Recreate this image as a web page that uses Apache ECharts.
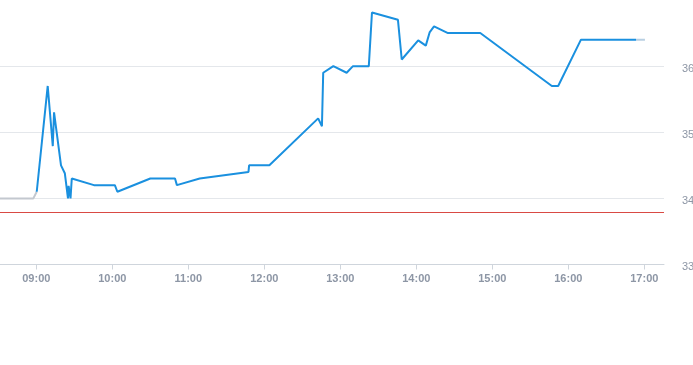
<!DOCTYPE html>
<html>
<head>
<meta charset="utf-8">
<script src="https://cdn.jsdelivr.net/npm/echarts@6/dist/echarts.min.js"></script>
<style>
html,body{margin:0;padding:0;background:#fff;}
#chart{width:693px;height:365px;}
</style>
</head>
<body>
<div id="chart"></div>
<script>
// Pre-market (grey) segment
var preTimes = ["08:31:20", "08:57:40", "09:00:20"];
var preValues = [34.0, 34.0, 34.1];

// Main trading session (blue)
var mainTimes = [
  "09:00:20", "09:09:00", "09:13:00", "09:14:00", "09:19:30", "09:21:00", "09:22:30",
  "09:25:00", "09:25:30", "09:27:00", "09:28:00", "09:45:30", "10:02:00", "10:04:00",
  "10:30:00", "10:49:30", "10:51:00", "11:09:00", "11:47:30", "11:48:00", "12:04:00",
  "12:42:30", "12:45:30", "12:46:30", "12:54:30", "13:05:00", "13:10:00", "13:22:30",
  "13:25:00", "13:45:30", "13:46:30", "13:48:30", "14:01:30", "14:07:30", "14:10:30",
  "14:14:00", "14:25:00", "14:50:30", "15:47:00", "15:52:00", "16:10:00", "16:53:30"
];
var mainValues = [
  34.10, 35.70, 34.79, 35.30, 34.50, 34.47, 34.38,
  34.00, 34.19, 34.00, 34.30, 34.20, 34.20, 34.10,
  34.30, 34.30, 34.20, 34.30, 34.40, 34.50, 34.50,
  35.21, 35.09, 35.90, 36.00, 35.90, 36.00, 36.00,
  36.81, 36.70, 36.70, 36.10, 36.39, 36.31, 36.51,
  36.60, 36.50, 36.50, 35.70, 35.70, 36.40, 36.40
];

// Post-market (grey) segment
var postTimes = ["16:53:30", "17:00:30"];
var postValues = [36.40, 36.40];

// Previous close reference
var prevClose = 33.79;

// Axis extents
var xMinTime = "08:31:20";
var xMaxTime = "17:15:33";
var yMin = 33;
var yMax = 37;

function ts(t) {
  var p = t.split(":");
  return Date.UTC(2024, 0, 15, +p[0], +p[1], +(p[2] || 0));
}
function pairs(times, values) {
  return times.map(function (t, i) { return [ts(t), values[i]]; });
}

var chart = echarts.init(document.getElementById('chart'), null, { renderer: 'canvas', useUTC: true });
var labelColor = '#8d96a5';
var redLine = { color: '#d94a44', width: 1, type: 'solid' };
chart.setOption({
  useUTC: true,
  animation: false,
  backgroundColor: '#ffffff',
  grid: { left: 0, right: 29, top: 0, bottom: 100.5, containLabel: false, outerBoundsMode: 'none' },
  xAxis: {
    type: 'time',
    min: ts(xMinTime),
    max: ts(xMaxTime),
    minInterval: 3600000,
    maxInterval: 3600000,
    splitLine: { show: false },
    axisLine: { show: true, lineStyle: { color: '#cfd5dc', width: 1 } },
    axisTick: { show: true, length: 5, lineStyle: { color: '#cfd5dc' } },
    axisLabel: {
      formatter: '{HH}:{mm}',
      color: labelColor,
      fontSize: 11,
      fontWeight: 'bold',
      fontFamily: 'Liberation Sans, Arial, sans-serif',
      margin: 9,
      hideOverlap: false
    }
  },
  yAxis: {
    type: 'value',
    position: 'right',
    min: yMin,
    max: yMax,
    interval: 1,
    axisLine: { show: false },
    axisTick: { show: false },
    splitLine: { show: true, showMaxLine: false, lineStyle: { color: '#e4e7eb', width: 1 } },
    axisLabel: {
      showMaxLabel: false,
      formatter: function (v) { return '{a|' + v + '}'; },
      margin: 18,
      rich: {
        a: {
          color: labelColor,
          fontSize: 11,
          fontFamily: 'Liberation Sans, Arial, sans-serif',
          padding: [5, 0, 0, 0]
        }
      }
    }
  },
  series: [
    {
      type: 'line',
      name: 'pre',
      data: pairs(preTimes, preValues),
      showSymbol: false,
      symbol: 'none',
      lineStyle: { color: '#c3c8cf', width: 2 },
      z: 2
    },
    {
      type: 'line',
      name: 'main',
      data: pairs(mainTimes, mainValues),
      showSymbol: false,
      symbol: 'none',
      color: '#1a90df',
      lineStyle: { color: '#1a90df', width: 2 },
      z: 3,
      markLine: {
        silent: true,
        symbol: ['none', 'none'],
        label: { show: false },
        lineStyle: redLine,
        emphasis: { disabled: true },
        data: [{ yAxis: prevClose, lineStyle: redLine }]
      }
    },
    {
      type: 'line',
      name: 'post',
      data: pairs(postTimes, postValues),
      showSymbol: false,
      symbol: 'none',
      lineStyle: { color: '#b8cfe2', width: 2 },
      z: 2
    }
  ]
});
</script>
</body>
</html>
